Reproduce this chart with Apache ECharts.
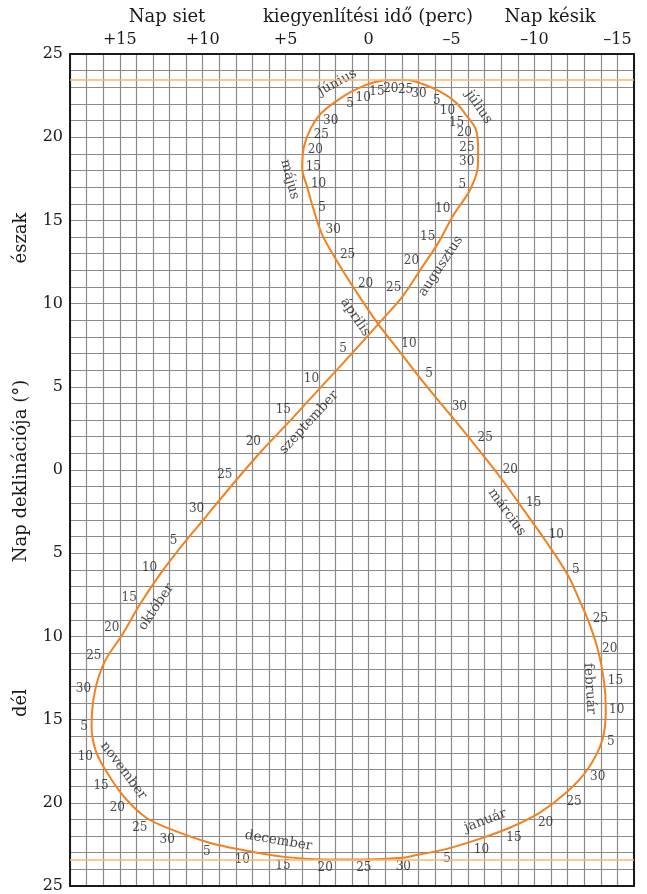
<!DOCTYPE html>
<html><head><meta charset="utf-8">
<script src="https://cdn.jsdelivr.net/npm/echarts@6/dist/echarts.min.js"></script>
<style>html,body{margin:0;padding:0;background:#fff}#c{width:647px;height:894px}</style>
</head><body><div id="c"></div>
<script>
// ---- data ----
const dates = ['01-01','01-05','01-10','01-15','01-20','01-25','01-30',
  '02-05','02-10','02-15','02-20','02-25',
  '03-01','03-05','03-10','03-15','03-20','03-25','03-30',
  '04-05','04-10','04-15','04-20','04-25','04-30',
  '05-05','05-10','05-15','05-20','05-25','05-30',
  '06-05','06-10','06-15','06-20','06-25','06-30',
  '07-05','07-10','07-15','07-20','07-25','07-30',
  '08-05','08-10','08-15','08-20','08-25','08-30',
  '09-05','09-10','09-15','09-20','09-25','09-30',
  '10-05','10-10','10-15','10-20','10-25','10-30',
  '11-05','11-10','11-15','11-20','11-25','11-30',
  '12-05','12-10','12-15','12-20','12-25','12-30'];
// equation of time (minutes, + = sun fast)
const eot = [-2.8,-4.6,-6.6,-8.5,-10.3,-11.9,-13.2,
  -14.1,-14.3,-14.2,-13.85,-13.3,
  -12.7,-12.0,-10.7,-9.35,-7.95,-6.45,-4.9,
  -3.2,-1.85,-0.45,0.8,1.9,2.8,
  3.3,3.7,4.0,3.9,3.5,2.8,
  1.45,0.6,-0.35,-1.3,-2.3,-3.25,
  -4.4,-5.25,-5.9,-6.45,-6.6,-6.6,
  -6.15,-5.1,-4.2,-3.2,-2.1,-0.7,
  1.1,2.9,4.6,6.4,8.1,9.8,
  11.3,12.6,13.8,14.85,15.9,16.5,
  16.7,16.4,15.5,14.6,13.4,11.9,
  9.6,7.5,5.1,2.6,0.3,-2.05];
// solar declination (degrees)
const decl = [-23.15,-22.8,-22.2,-21.5,-20.6,-19.4,-18.0,
  -16.2,-14.4,-12.75,-10.9,-9.2,
  -7.8,-6.3,-4.3,-2.4,-0.45,1.45,3.35,
  5.4,7.15,8.95,10.8,12.55,14.15,
  15.6,17.0,18.15,19.4,20.5,21.5,
  22.5,22.95,23.3,23.44,23.44,23.2,
  22.7,22.1,21.3,20.5,19.4,18.4,
  16.9,15.3,13.65,12.15,10.5,8.9,
  6.9,4.95,3.1,1.2,-0.75,-2.8,
  -4.6,-6.3,-8.1,-9.9,-11.5,-13.3,
  -15.4,-17.0,-18.6,-19.8,-20.9,-21.6,
  -22.4,-22.85,-23.25,-23.4,-23.4,-23.3];
const dayText = ['','5','10','15','20','25','30',
  '5','10','15','20','25',
  '','5','10','15','20','25','30',
  '5','10','','20','25','30',
  '5','10','15','20','25','30',
  '5','10','15','20','25','30',
  '5','10','15','20','25','30',
  '5','10','15','20','25','',
  '5','10','15','20','25','30',
  '5','10','15','20','25','30',
  '5','10','15','20','25','30',
  '5','10','15','20','25','30'];
const monthNames = ['január','február','március','április','május','június',
  'július','augusztus','szeptember','október','november','december'];
const monthLabelDate = ['01-12','02-14','03-16','04-17','05-13','06-05',
  '07-15','08-18','09-14','10-14','11-15','12-14'];
const solstice = 23.44;
const topTitles = ['Nap siet','kiegyenlítési idő (perc)','Nap késik'];
const leftTitles = ['észak','Nap deklinációja (°)','dél'];

// ---- chart ----
const serif = 'DejaVu Serif';
const textCol = '#1a1a1a';
const chart = echarts.init(document.getElementById('c'), null, {renderer:'canvas'});
const gridCol = '#8a8a8a';
const borderStyle = {show:true, onZero:false, lineStyle:{color:'#1a1a1a', width:2}};
const curveData = eot.map((e,i)=>[e,decl[i]]);
curveData.push(curveData[0]);
const titleStyle = t => ({text:t, fontFamily:serif, fontSize:18, fill:textCol, align:'center', verticalAlign:'middle'});

chart.setOption({
  animation:false,
  grid:{left:70,right:13,top:54,bottom:7},
  xAxis:[{type:'value', position:'top', inverse:true, min:-16, max:18, interval:1,
    axisLine:borderStyle, axisTick:{show:false},
    axisLabel:{interval:0, margin:6, fontFamily:serif, fontSize:16, color:textCol,
      formatter:v=> v%5===0 ? (v>0?'+'+v:(v<0?'\u2013'+(-v):'0')) : ''},
    splitLine:{show:true, lineStyle:{color:gridCol, width:1.2}}},
   {type:'value', position:'bottom', inverse:true, min:-16, max:18, interval:1,
    axisLine:borderStyle, axisTick:{show:false}, axisLabel:{show:false}, splitLine:{show:false}}],
  yAxis:[{type:'value', position:'left', min:-25, max:25, interval:1,
    axisLine:borderStyle, axisTick:{show:false},
    axisLabel:{interval:0, margin:7, fontFamily:serif, fontSize:16, color:textCol,
      formatter:v=> v%5===0 ? String(Math.abs(v)) : ''},
    splitLine:{show:true, lineStyle:{color:gridCol, width:1.2}}},
   {type:'value', position:'right', min:-25, max:25, interval:1,
    axisLine:borderStyle, axisTick:{show:false}, axisLabel:{show:false}, splitLine:{show:false}}],
  graphic:[
    {type:'text', x:167, y:17, style:titleStyle(topTitles[0])},
    {type:'text', x:368, y:17, style:titleStyle(topTitles[1])},
    {type:'text', x:550, y:17, style:titleStyle(topTitles[2])},
    {type:'text', x:21, y:238, rotation:Math.PI/2, style:titleStyle(leftTitles[0])},
    {type:'text', x:21, y:471, rotation:Math.PI/2, style:titleStyle(leftTitles[1])},
    {type:'text', x:21, y:703, rotation:Math.PI/2, style:titleStyle(leftTitles[2])}
  ],
  series:[{type:'line', data:curveData, smooth:0.35, symbol:'none', z:3,
    lineStyle:{color:'#f3811d', width:2},
    markLine:{silent:true, symbol:'none', label:{show:false},
      lineStyle:{color:'#fbb76e', width:1.5, type:'solid'},
      data:[{yAxis:solstice},{yAxis:-solstice}]}}]
});

// ---- label placement from pixel geometry of the curve ----
const toPx = v => chart.convertToPixel({xAxisIndex:0,yAxisIndex:0}, v);
const toVal = p => chart.convertFromPixel({xAxisIndex:0,yAxisIndex:0}, p);
const P = eot.map((e,i)=>toPx([e,decl[i]]));
const N = P.length;
function unit(v){ const l=Math.hypot(v[0],v[1])||1; return [v[0]/l,v[1]/l]; }
const dayLabels = [];
for (let i=0;i<N;i++){
  if (!dayText[i]) continue;
  const a=P[(i-1+N)%N], b=P[(i+1)%N];
  const t=unit([b[0]-a[0], b[1]-a[1]]);
  const n=[-t[1], t[0]]; // right-hand side of travel direction
  const w=dayText[i].length*6.8, h=9.5, gap=4;
  const d=gap+Math.abs(n[0])*w/2+Math.abs(n[1])*h/2;
  dayLabels.push({value:toVal([P[i][0]+n[0]*d, P[i][1]+n[1]*d]), label:{formatter:dayText[i]}});
}
const cum=[0,31,59,90,120,151,181,212,243,273,304,334];
const doy = s => { const [m,d]=s.split('-').map(Number); return cum[m-1]+d; };
const D = dates.map(doy);
const monthLabels = monthNames.map((name,j)=>{
  const a=doy(monthLabelDate[j]);
  let k=0; while(k<N-2 && D[k+1]<=a) k++;
  const f=(a-D[k])/(D[k+1]-D[k]);
  const p=[P[k][0]+(P[k+1][0]-P[k][0])*f, P[k][1]+(P[k+1][1]-P[k][1])*f];
  const t=unit([P[k+1][0]-P[k][0], P[k+1][1]-P[k][1]]);
  const n=[t[1], -t[0]]; // left-hand side
  const dist=15;
  let ang=Math.atan2(-t[1], t[0])*180/Math.PI;
  if (ang>=90) ang-=180; if (ang<-90) ang+=180;
  return {value:toVal([p[0]+n[0]*dist, p[1]+n[1]*dist]), label:{formatter:name, rotate:ang}};
});

chart.setOption({series:[
  {type:'line', data:curveData},
  {type:'scatter', data:dayLabels, symbolSize:0, silent:true, z:4,
   label:{show:true, position:'inside', align:'center', verticalAlign:'middle',
     fontFamily:serif, fontSize:12, color:textCol}},
  {type:'scatter', data:monthLabels, symbolSize:0, silent:true, z:4,
   label:{show:true, position:'inside', align:'center', verticalAlign:'middle',
     fontFamily:serif, fontSize:13.5, color:textCol}}
]});
</script></body></html>
